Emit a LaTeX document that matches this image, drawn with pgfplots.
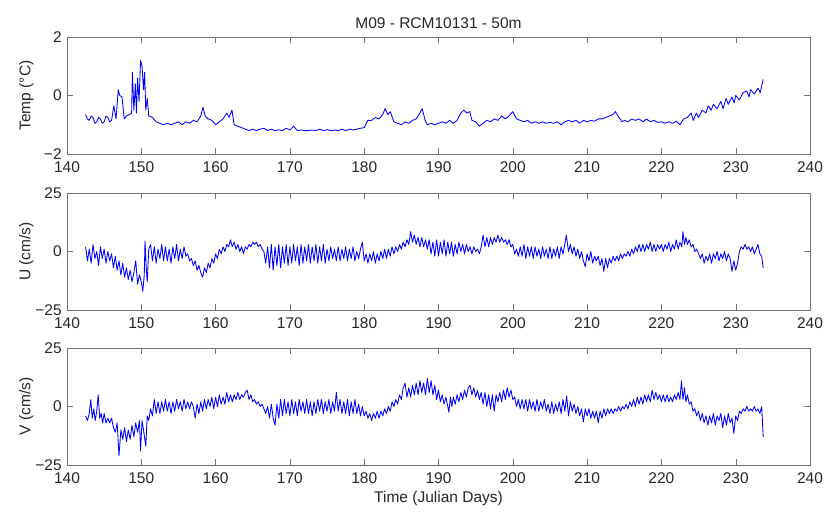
\documentclass[border=0pt]{standalone}
\usepackage{pgfplots}
\pgfplotsset{compat=1.18}
\usepackage{fontspec}
\setmainfont{Liberation Sans}
\begin{document}
\fontsize{15.5}{18}\selectfont
\begin{tikzpicture}
\pgfplotsset{
  panel/.style={
    width=743pt, height=117pt, scale only axis,
    xmin=140, xmax=240,
    xtick={140,150,...,240},
    tick align=inside,
    major tick length=6pt,
    axis line style={black!55},
    every tick/.style={black!55},
    tick label style={font=\fontsize{15.5}{18}\selectfont, text=black!85},
    label style={font=\fontsize{15.5}{18}\selectfont, text=black!85},
    /pgf/number format/assume math mode=true,
    ylabel style={at={(axis description cs:0,0.5)}, anchor=south, yshift=28pt},
    xticklabel style={yshift=-2pt},
    no markers,
    every axis plot/.append style={blue, mark=none, line width=0.85pt, line join=round},
  }
}
% ---------- Temperature ----------
\begin{axis}[panel, name=p1, at={(0pt,0pt)}, anchor=north west,
  ymin=-2, ymax=2, ytick={-2,0,2}, yticklabels={−2,0,2},
  ylabel={Temp (°C)},
  title={M09 - RCM10131 - 50m},
  title style={font=\fontsize{15.5}{18}\selectfont, text=black!85, yshift=-3pt}]
\addplot coordinates {
(142.5,-0.65)(142.75,-0.8)(143,-0.85)(143.25,-0.7)(143.5,-0.75)(143.75,-0.95)(144,-0.9)(144.25,-0.75)(144.5,-0.8)(144.75,-0.95)(145,-0.9)(145.25,-0.7)(145.5,-0.75)(145.75,-0.9)(146,-0.85)
(146.3,-0.35)(146.6,-0.8)(146.9,0.2)(147.1,0.0)(147.4,-0.05)(147.7,-0.8)(148,-0.7)(148.4,-0.65)
(148.7,-0.6)(148.8,0.8)(149.0,-0.5)(149.2,0.4)(149.35,-0.6)(149.5,0.6)(149.7,-0.2)(149.9,1.2)
(150.1,1.0)(150.3,0.2)(150.45,0.8)(150.6,-0.5)(150.8,-0.1)(151.0,-0.7)(151.5,-0.75)(152,-0.9)
(152.5,-0.95)(153,-1.0)(153.5,-0.95)(154,-1.0)(154.5,-0.95)(155,-0.9)(155.5,-1.0)(156,-0.9)
(156.5,-0.95)(157,-0.85)(157.5,-0.9)(158,-0.7)(158.3,-0.4)(158.6,-0.7)(159,-0.8)(159.5,-0.85)
(160,-1.0)(160.5,-0.9)(161,-0.8)(161.5,-0.6)(161.8,-0.75)(162.2,-0.5)(162.5,-1.0)(163,-1.05)
(163.5,-1.1)(164,-1.15)(164.5,-1.2)(165,-1.15)(165.5,-1.2)(166,-1.15)(166.5,-1.12)(167,-1.2)
(167.5,-1.15)(168,-1.2)(168.5,-1.17)(169,-1.2)(169.5,-1.12)(170,-1.18)(170.5,-1.05)(171,-1.2)
(171.5,-1.18)(172,-1.2)(172.5,-1.2)(173,-1.18)(173.5,-1.2)(174,-1.15)(174.5,-1.2)(175,-1.17)
(175.5,-1.2)(176,-1.18)(176.5,-1.2)(177,-1.15)(177.5,-1.2)(178,-1.15)(178.5,-1.18)(179,-1.15)
(179.5,-1.12)(180,-1.1)(180.5,-0.85)(181,-0.85)(181.5,-0.75)(182,-0.8)(182.5,-0.65)(182.8,-0.45)
(183.2,-0.65)(183.5,-0.55)(184,-0.9)(184.5,-0.95)(185,-1.0)(185.5,-0.9)(186,-0.95)(186.5,-0.85)
(187,-0.8)(187.5,-0.6)(187.8,-0.45)(188.2,-0.85)(188.5,-1.0)(189,-0.95)(189.5,-1.0)(190,-0.95)
(190.5,-0.9)(191,-0.95)(191.5,-0.85)(192,-0.95)(192.5,-0.85)(193,-0.6)(193.4,-0.5)(193.8,-0.6)
(194.2,-0.55)(194.5,-0.85)(195,-0.9)(195.5,-1.05)(196,-0.95)(196.5,-0.85)(197,-0.9)(197.5,-0.8)
(198,-0.85)(198.5,-0.7)(199,-0.8)(199.5,-0.7)(200,-0.55)(200.5,-0.8)(201,-0.85)(201.5,-0.9)
(202,-0.85)(202.5,-0.95)(203,-0.9)(203.5,-0.95)(204,-0.9)(204.5,-0.95)(205,-0.92)(205.5,-0.95)
(206,-0.9)(206.5,-1.0)(207,-0.9)(207.5,-0.85)(208,-0.9)(208.5,-0.85)(209,-0.95)(209.5,-0.85)
(210,-0.9)(210.5,-0.85)(211,-0.88)(211.5,-0.8)(212,-0.8)(212.5,-0.75)(213,-0.7)(213.5,-0.65)
(213.8,-0.55)(214.3,-0.75)(214.7,-0.9)(215,-0.85)(215.5,-0.9)(216,-0.8)(216.5,-0.85)(217,-0.8)
(217.5,-0.9)(218,-0.8)(218.5,-0.9)(219,-0.85)(219.5,-0.92)(220,-0.9)(220.5,-0.95)(221,-0.9)
(221.5,-0.95)(222,-0.88)(222.5,-1.0)(223,-0.8)(223.5,-0.75)(224,-0.6)(224.3,-0.85)(224.7,-0.6)
(225,-0.75)(225.5,-0.5)(226,-0.6)(226.3,-0.35)(226.7,-0.5)(227,-0.3)(227.5,-0.45)(228,-0.2)
(228.3,-0.45)(228.7,-0.1)(229,-0.3)(229.5,-0.05)(229.8,-0.25)(230,0.0)(230.5,-0.15)(231,0.1)
(231.5,0.15)(231.8,-0.05)(232,0.2)(232.5,0.05)(233,0.25)(233.3,0.1)(233.7,0.55)
};
\end{axis}
% ---------- U ----------
\begin{axis}[panel, name=p2, at={(0pt,-156pt)}, anchor=north west,
  ymin=-25, ymax=25, ytick={-25,0,25}, yticklabels={−25,0,25},
  ylabel={U (cm/s)}]
\addplot coordinates {
(142.5,2)(142.75,-4)(143,1)(143.25,-5)(143.5,3)(143.75,-3)(144,0)(144.25,-6)(144.5,2)(144.75,-3)
(145,1)(145.25,-5)(145.5,0)(145.75,-4)(146,-1)(146.25,-7)(146.5,-2)(146.75,-8)(147,-4)(147.25,-10)
(147.5,-5)(147.75,-11)(148,-7)(148.25,-12)(148.5,-8)(148.75,-13)(149,-9)(149.25,-4)(149.5,-14)(149.75,-10)
(150,-13)(150.2,-17)(150.4,-10)(150.5,4.5)(150.65,-6)(150.8,-13)(151,1)(151.25,3)(151.5,-4)(151.75,2)
(152,-5)(152.25,1)(152.5,-3)(152.75,3)(153,-4)(153.25,2)(153.5,-4)(153.75,1)(154,-5)(154.25,2)
(154.5,-3)(154.75,3)(155,-4)(155.25,1)(155.5,-3)(155.75,2)(156,-2)(156.25,-1)(156.5,-4)(156.75,-3)
(157,-6)(157.25,-4)(157.5,-8)(157.75,-6)(158,-9)(158.25,-11)(158.5,-7)(158.75,-9)(159,-5)(159.25,-7)
(159.5,-3)(159.75,-5)(160,-1)(160.25,-3)(160.5,1)(160.75,-1)(161,2)(161.25,0)(161.5,3)(161.75,2)
(162,5)(162.25,2)(162.5,4)(162.75,1)(163,3)(163.25,0)(163.5,2)(163.75,-1)(164,2)(164.25,1)
(164.5,3)(164.75,2)(165,4)(165.25,3)(165.5,4)(165.75,2)(166,3)(166.25,1)(166.5,0)
(166.75,-5)(167,2)(167.25,-7)(167.5,3)(167.75,-8)(168,2)(168.25,-6)(168.5,3)(168.75,-7)(169,2)
(169.25,-5)(169.5,3)(169.75,-6)(170,2)(170.25,-5)(170.5,3)(170.75,-4)(171,2)(171.25,-6)(171.5,3)
(171.75,-5)(172,2)(172.25,-4)(172.5,3)(172.75,-5)(173,2)(173.25,-4)(173.5,3)(173.75,-5)(174,2)
(174.25,-4)(174.5,3)(174.75,-5)(175,1)
(175.25,-4)(175.5,2)(175.75,-3)(176,1)(176.25,-4)(176.5,2)(176.75,-4)(177,1)(177.25,-3)(177.5,2)
(177.75,-4)(178,1)(178.25,-3)(178.5,2)(178.75,-4)(179,0)(179.25,-3)(179.5,1)(179.75,4)(180,-4)
(180.25,-1)(180.5,-5)(180.75,-1)(181,-4)(181.25,0)(181.5,-5)(181.75,-1)(182,-4)(182.25,0)(182.5,-3)
(182.75,1)(183,-3)(183.25,1)(183.5,-2)(183.75,2)(184,-1)(184.25,2)(184.5,0)(184.75,3)(185,1)
(185.25,4)(185.5,2)(185.75,5)(186,3)(186.25,8.5)(186.5,4)(186.75,7)(187,3)(187.25,6)(187.5,2)
(187.75,6)(188,2)(188.25,5)(188.5,1)(188.75,5)(189,-1)(189.25,4)(189.5,-2)(189.75,5)(190,-2)
(190.25,4)(190.5,-1)(190.75,5)(191,-2)(191.25,4)(191.5,-1)(191.75,4)(192,-2)(192.25,3)(192.5,-1)
(192.75,4)(193,0)(193.25,3)(193.5,-1)(193.75,3)(194,0)(194.25,2)(194.5,-1)(194.75,2)(195,0)
(195.25,1)(195.5,-1)(195.75,2)(196,7)(196.25,2)(196.5,6)(196.75,2)(197,6)(197.25,3)(197.5,6)
(197.75,4)(198,7)(198.25,4)(198.5,6)(198.75,4)(199,5)(199.25,3)(199.5,5)(199.75,2)(200,3)
(200.25,-1)(200.5,1)(200.75,-2)(201,2)(201.25,-2)(201.5,3)(201.75,-3)(202,2)(202.25,-2)(202.5,2)
(202.75,-3)(203,2)(203.25,-2)(203.5,1)(203.75,-3)(204,2)(204.25,-2)(204.5,1)(204.75,-3)(205,2)
(205.25,-3)(205.5,1)(205.75,-2)(206,2)(206.25,-3)(206.5,2)(206.75,-1)(207,3)(207.2,7)(207.5,0)
(207.75,3)(208,-1)(208.25,2)(208.5,-2)(208.75,1)(209,-3)(209.25,0)(209.5,-4)(209.75,-6.5)(210,-1)
(210.25,-4)(210.5,0)(210.75,-5)(211,-2)(211.25,-4)(211.5,-2)(211.75,-6)(212,-3)(212.25,-8.5)(212.5,-3)
(212.75,-7)(213,-3)(213.25,-5)(213.5,-2)(213.75,-4)(214,-2)(214.25,-4)(214.5,-1)(214.75,-3)(215,-1)
(215.25,-2)(215.5,0)(215.75,-2)(216,1)(216.25,-1)(216.5,2)(216.75,0)(217,3)(217.25,0)(217.5,3)
(217.75,0)(218,3)(218.25,1)(218.5,4)(218.75,0)(219,3)(219.25,0)(219.5,3)(219.75,1)(220,3)
(220.25,0)(220.5,3)(220.75,1)(221,4)(221.25,0)(221.5,3)(221.75,1)(222,5)(222.25,1)(222.5,4)
(222.75,2)(222.9,8.5)(223.1,3)(223.3,6)(223.5,3)(223.75,5)(224,2)(224.25,3)(224.5,0)(224.75,1)
(225,-1)(225.25,-3)(225.5,-1)(225.75,-5)(226,-2)(226.25,-4)(226.5,-1)(226.75,-5)(227,-1)(227.25,-3)
(227.5,0)(227.75,-4)(228,-1)(228.25,-3)(228.5,0)(228.75,-4)(229,-1)(229.25,-3)(229.5,-8.5)(229.75,-4)
(230,-8)(230.25,-5)(230.5,0)(230.75,2)(231,1)(231.25,3)(231.5,1)(231.75,2)(232,0)(232.25,2)
(232.5,-1)(232.75,1)(233,3)(233.25,-1)(233.5,-2)(233.7,-7)
};
\end{axis}
% ---------- V ----------
\begin{axis}[panel, name=p3, at={(0pt,-311pt)}, anchor=north west,
  ymin=-25, ymax=25, ytick={-25,0,25}, yticklabels={−25,0,25},
  ylabel={V (cm/s)}, xlabel={Time (Julian Days)},
  xlabel style={yshift=3pt}]
\addplot coordinates {
(142.5,-4)(142.75,-6)(143,-3)(143.2,3)(143.4,-5)(143.6,-1)(143.8,-6)(144,-2)(144.2,5)(144.4,-5)
(144.6,-3)(144.8,-7)(145,-3)(145.25,-7)(145.5,-5)(145.75,-7)(146,-5)(146.25,-9)(146.5,-11)(146.75,-7)
(147,-21)(147.25,-10)(147.5,-14)(147.75,-9)(148,-15)(148.25,-10)(148.5,-14)(148.75,-8)(149,-13)(149.25,-7)
(149.5,-11)(149.75,-6)(149.9,-19)(150.1,-6)(150.3,-10)(150.6,-17)(150.8,-4)(151,-6)(151.25,-1)(151.5,-4)
(151.75,3)(152,-3)(152.25,2)(152.5,-3)(152.75,2)(153,-2)(153.25,3)(153.5,-2)(153.75,2)(154,-3)
(154.25,2)(154.5,-2)(154.75,3)(155,-1)(155.25,2)(155.5,-2)(155.75,3)(156,-1)(156.25,2)(156.5,-1)
(156.75,2)(157,0)(157.25,-5)(157.5,1)(157.75,-3)(158,2)(158.25,-2)(158.5,3)(158.75,-1)(159,3)
(159.25,0)(159.5,4)(159.75,-1)(160,4)(160.25,0)(160.5,5)(160.75,1)(161,4)(161.25,1)(161.5,6)
(161.75,2)(162,5)(162.25,2)(162.5,5)(162.75,3)(163,6)(163.25,3)(163.5,5)(163.75,4)(164,6)
(164.25,7)(164.5,3)(164.75,5)(165,2)(165.25,3)(165.5,1)(165.75,2)(166,0)(166.25,1)(166.5,-1)
(166.75,-3)(167,0)(167.25,-5)(167.5,1)(167.75,-5)(168,-8)(168.25,1)(168.5,-5)(168.75,3)(169,-4)
(169.25,3)(169.5,-3)(169.75,2)(170,-4)(170.25,3)(170.5,-3)(170.75,2)(171,-4)(171.25,3)(171.5,-2)
(171.75,2)(172,-3)(172.25,3)(172.5,-3)(172.75,2)(173,-4)(173.25,2)(173.5,-3)(173.75,3)(174,-2)
(174.25,3)(174.5,-3)(174.75,2)(175,-2)(175.25,3)(175.5,-3)(175.75,2)(176,-2)(176.25,6)(176.5,-2)
(176.75,3)(177,-3)(177.25,2)(177.5,-3)(177.75,3)(178,-4)(178.25,2)(178.5,-3)(178.75,3)(179,-3)
(179.25,1)(179.5,-4)(179.75,0)(180,-4)(180.25,-2)(180.5,-5)(180.75,-3)(181,-6)(181.25,-3)(181.5,-5)
(181.75,-2)(182,-5)(182.25,-2)(182.5,-4)(182.75,-1)(183,-3)(183.25,0)(183.5,-2)(183.75,2)(184,0)
(184.25,3)(184.5,1)(184.75,5)(185,3)(185.25,8)(185.5,10)(185.75,4)(186,8)(186.25,4)(186.5,9)
(186.75,5)(187,10)(187.25,5)(187.5,11)(187.75,6)(188,10)(188.25,5)(188.5,12)(188.75,6)(189,11)
(189.25,5)(189.5,9)(189.75,3)(190,7)(190.25,2)(190.5,5)(190.75,1)(191,4)(191.25,0)(191.4,-2.5)
(191.6,4)(191.8,0)(192,4)(192.25,1)(192.5,5)(192.75,2)(193,6)(193.25,3)(193.5,7)(193.75,4)
(194,8)(194.25,9)(194.5,5)(194.75,8)(195,4)(195.25,7)(195.5,3)(195.75,6)(196,1)(196.25,6)
(196.5,0)(196.75,5)(197,-1)(197.25,5)(197.5,-2)(197.75,5)(198,2)(198.25,6)(198.5,2)(198.75,7)
(199,3)(199.25,8)(199.5,4)(199.75,7)(200,3)(200.25,4)(200.5,0)(200.75,3)(201,-1)(201.25,3)
(201.5,-1)(201.75,3)(202,-2)(202.25,3)(202.5,-1)(202.75,2)(203,-2)(203.25,3)(203.5,-2)(203.75,2)
(204,-1)(204.25,3)(204.5,-2)(204.75,1)(205,-3)(205.25,2)(205.5,-3)(205.75,1)(206,-2)(206.25,2)
(206.5,-3)(206.75,3)(207,-2)(207.25,4.5)(207.5,-4)(207.75,2)(208,-2)(208.25,1)(208.5,-3)(208.75,0)
(209,-4)(209.25,-1)(209.5,-6.5)(209.75,-1)(210,-4)(210.25,-1)(210.5,-5)(210.75,-2)(211,-5)(211.25,-2)
(211.5,-7)(211.75,-2)(212,-5)(212.25,-1)(212.5,-4)(212.75,-1)(213,-3)(213.25,-1)(213.5,-3)(213.75,-1)
(214,-2)(214.25,0)(214.5,-2)(214.75,0)(215,-1)(215.25,1)(215.5,-1)(215.75,2)(216,0)(216.25,3)
(216.5,0)(216.75,4)(217,1)(217.25,4)(217.5,1)(217.75,5)(218,2)(218.25,5)(218.5,2)(218.75,7)
(219,3)(219.25,6)(219.5,3)(219.75,5)(220,2)(220.25,5)(220.5,2)(220.75,5)(221,2)(221.25,4)
(221.5,2)(221.75,5)(222,3)(222.25,6)(222.5,3)(222.7,11)(222.9,3)(223.1,8)(223.3,2)(223.5,5)
(223.75,1)(224,2)(224.25,-2)(224.5,-1)(224.75,-4)(225,-2)(225.25,-6)(225.5,-3)(225.75,-7)(226,-4)
(226.25,-8)(226.5,-4)(226.75,-7)(227,-3)(227.25,-8)(227.5,-4)(227.75,-6)(228,-3)(228.25,-9)(228.5,-4)
(228.75,-8)(229,-3)(229.25,-7)(229.5,-5)(229.75,-11.5)(230,-4)(230.25,-6)(230.5,-2)(230.75,-3)(231,-1)
(231.25,-2)(231.5,0)(231.75,-2)(232,-1)(232.25,-2)(232.5,0)(232.75,-2)(233,-1)(233.25,-3)(233.5,0)
(233.7,-13)
};
\end{axis}
\pgfresetboundingbox
\path (-67pt,37pt) rectangle (761pt,-480pt);
\end{tikzpicture}
\end{document}
